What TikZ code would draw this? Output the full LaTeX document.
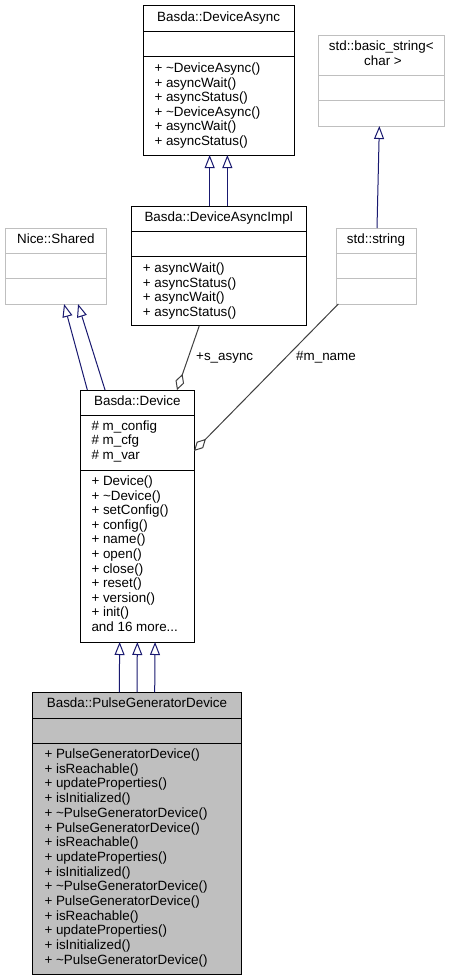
\documentclass[tikz,border=0pt]{standalone}
\usepackage{fontspec}
\setmainfont{Liberation Sans}
\usetikzlibrary{arrows.meta}
\definecolor{lgray}{RGB}{191,191,191}
\definecolor{pfill}{RGB}{191,191,191}
\definecolor{navyblue}{RGB}{25,25,112}
\definecolor{aggcol}{RGB}{64,64,64}
\tikzset{
 cls/.style={draw=black, line width=1pt, anchor=north west, inner sep=0pt, outer sep=0pt},
 gcls/.style={cls, draw=lgray},
 sepline/.style={line width=1pt, draw=black},
 gsepline/.style={line width=1pt, draw=lgray},
 txt/.style={inner sep=0pt, anchor=west, text height=9.8pt, text depth=2.8pt, font=\fontsize{13.4}{14.6}\selectfont},
 ttl/.style={txt, anchor=center},
 inh/.style={draw=navyblue, line width=1pt, -{Triangle[open, length=13pt, width=10pt]}},
 aggr/.style={draw=aggcol, line width=1pt, -{Diamond[open, length=17pt, width=9pt]}},
}
\begin{document}
\begin{tikzpicture}[x=1pt,y=-1pt]
\useasboundingbox (0,0) rectangle (450,980);
\fill[white] (0,0) rectangle (450,980);

% Basda::DeviceAsync
\node[cls, minimum width=150.7pt, minimum height=149.3pt] (da) at (143.3,5.7) {};
\draw[sepline] (143.3,31.7) -- (294,31.7);
\draw[sepline] (143.3,56.7) -- (294,56.7);
\node[ttl] (da-t) at (218.65,17.8) {Basda::DeviceAsync};
\foreach \t [count=\i from 0] in {+ \textasciitilde DeviceAsync(), + asyncWait(), + asyncStatus(), + \textasciitilde DeviceAsync(), + asyncWait(), + asyncStatus()}
  \node[txt] (da-m\i) at (154.3,{69+\i*14.6}) {\t};

% std::basic_string< char >
\node[gcls, minimum width=126.7pt, minimum height=90.7pt] (bs) at (318,35.3) {};
\draw[gsepline] (318,75.3) -- (444.7,75.3);
\draw[gsepline] (318,100.3) -- (444.7,100.3);
\node[ttl] (bs-t1) at (381.3,46.7) {std::basic\_string<};
\node[ttl] (bs-t2) at (383,61.7) {char >};

% Basda::DeviceAsyncImpl
\node[cls, minimum width=174.7pt, minimum height=119.7pt] (dai) at (131.3,206) {};
\draw[sepline] (131.3,231) -- (306,231);
\draw[sepline] (131.3,256.7) -- (306,256.7);
\node[ttl] (dai-t) at (218.65,218) {Basda::DeviceAsyncImpl};
\foreach \t [count=\i from 0] in {+ asyncWait(), + asyncStatus(), + asyncWait(), + asyncStatus()}
  \node[txt] (dai-m\i) at (142.7,{269+\i*14.6}) {\t};

% Nice::Shared
\node[gcls, minimum width=101.7pt, minimum height=76pt] (ns) at (5,228) {};
\draw[gsepline] (5,253.3) -- (106.7,253.3);
\draw[gsepline] (5,278.7) -- (106.7,278.7);
\node[ttl] (ns-t) at (55.85,239.5) {Nice::Shared};

% std::string
\node[gcls, minimum width=80pt, minimum height=76pt] (ss) at (336,228) {};
\draw[gsepline] (336,253.3) -- (416,253.3);
\draw[gsepline] (336,278.7) -- (416,278.7);
\node[ttl] (ss-t) at (376,239.5) {std::string};

% Basda::Device
\node[cls, minimum width=113.3pt, minimum height=252pt] (dev) at (80.7,390) {};
\draw[sepline] (80.7,415.3) -- (194,415.3);
\draw[sepline] (80.7,470) -- (194,470);
\node[ttl] (dev-t) at (137.35,401.7) {Basda::Device};
\foreach \t [count=\i from 0] in {\# m\_config, \# m\_cfg, \# m\_var}
  \node[txt] (dev-a\i) at (91.3,{426.7+\i*14.6}) {\t};
\foreach \t [count=\i from 0] in {+ Device(), + \textasciitilde Device(), + setConfig(), + config(), + name(), + open(), + close(), + reset(), + version(), + init(), {and 16 more.\kern0pt..}}
  \node[txt] (dev-m\i) at (91.3,{482+\i*14.6}) {\t};

% Basda::PulseGeneratorDevice
\node[cls, fill=pfill, minimum width=208.6pt, minimum height=281.7pt] (pg) at (32.7,692.3) {};
\draw[sepline] (32.7,718) -- (241.3,718);
\draw[sepline] (32.7,743) -- (241.3,743);
\node[ttl] (pg-t) at (137,704.3) {Basda::PulseGeneratorDevice};
\foreach \t [count=\i from 0] in {+ PulseGeneratorDevice(), + isReachable(), + updateProperties(), + isInitialized(), + \textasciitilde PulseGeneratorDevice(), + PulseGeneratorDevice(), + isReachable(), + updateProperties(), + isInitialized(), + \textasciitilde PulseGeneratorDevice(), + PulseGeneratorDevice(), + isReachable(), + updateProperties(), + isInitialized(), + \textasciitilde PulseGeneratorDevice()}
  \node[txt] (pg-m\i) at (44.3,{755+\i*14.7}) {\t};

% inheritance
\draw[inh] ([xshift=-9pt]dai.north) -- ([xshift=-9pt]da.south);
\draw[inh] ([xshift=8.7pt]dai.north) -- ([xshift=8.7pt]da.south);
\draw[inh] ([xshift=1pt]ss.north) -- ([xshift=-2pt]bs.south);
\draw[inh] ([xshift=-50pt]dev.north) -- ([xshift=8.2pt]ns.south);
\draw[inh] ([xshift=-32.3pt]dev.north) -- ([xshift=22.2pt]ns.south);
\draw[inh] ([xshift=-17.7pt]pg.north) -- ([xshift=-17.7pt]dev.south);
\draw[inh] (pg.north) -- (dev.south);
\draw[inh] ([xshift=17.7pt]pg.north) -- ([xshift=17.7pt]dev.south);

% aggregation
\draw[aggr] ([xshift=-19.35pt]dai.south) -- ([xshift=39.65pt]dev.north);
\draw[aggr] ([xshift=-37.7pt]ss.south) -- ([yshift=65pt]dev.east);
\node[txt] (lab-async) at (196,356.7) {+s\_async};
\node[txt] (lab-name) at (296,356.7) {\#m\_name};
\end{tikzpicture}
\end{document}
